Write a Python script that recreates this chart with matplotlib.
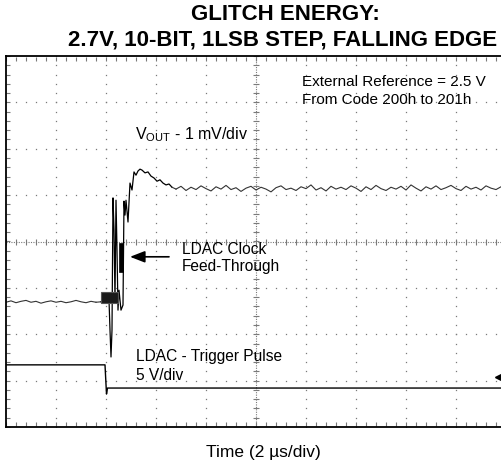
import numpy as np
import matplotlib
matplotlib.use("Agg")
import matplotlib.pyplot as plt
from matplotlib.patches import Rectangle

plt.rcParams['font.family'] = ['Liberation Sans', 'DejaVu Sans']
plt.rcParams['mathtext.fontset'] = 'custom'
plt.rcParams['mathtext.rm'] = 'Liberation Sans'
plt.rcParams['mathtext.it'] = 'Liberation Sans'

# ---- scope data: time in microseconds, vertical in divisions ----
# V_OUT (1 mV/div): pre-step baseline
base_t = np.round(np.arange(0.0, 3.61, 0.2), 2)
base_v = [-1.31, -1.28, -1.32, -1.29, -1.27, -1.31, -1.29, -1.33, -1.30, -1.28,
          -1.31, -1.29, -1.32, -1.30, -1.27, -1.30, -1.32, -1.29, -1.31]

# V_OUT around the LDAC edge (glitch and overshoot)
glitch_t = [3.80, 3.92, 4.04, 4.12, 4.16, 4.20, 4.24, 4.28, 4.32, 4.36, 4.40,
            4.44, 4.48, 4.52, 4.60, 4.68, 4.72, 4.76, 4.80, 4.88, 4.96, 5.04,
            5.12, 5.20, 5.28, 5.36, 5.44, 5.56, 5.68, 5.80, 5.92, 6.04, 6.16,
            6.28, 6.40, 6.52, 6.64]
glitch_v = [-1.30, -1.26, -1.33, -1.26, -1.91, -2.49, -1.91, 0.94, 0.25, -1.26,
            0.89, -0.18, -1.48, -1.05, -1.48, -1.37, 0.87, 0.57, 0.89, 0.42,
            1.26, 1.11, 1.50, 1.43, 1.52, 1.56, 1.54, 1.48, 1.50, 1.41, 1.37,
            1.30, 1.33, 1.26, 1.22, 1.24, 1.17]

# V_OUT settled after the step
settle_t = np.round(np.arange(6.8, 20.01, 0.2), 2)
settle_v = [1.13, 1.19, 1.10, 1.17, 1.12, 1.20, 1.14, 1.09, 1.18, 1.13, 1.21,
            1.12, 1.16, 1.08, 1.15, 1.19, 1.11, 1.17, 1.13, 1.07, 1.16, 1.20,
            1.12, 1.15, 1.10, 1.18, 1.14, 1.22, 1.11, 1.16, 1.09, 1.19, 1.13,
            1.17, 1.12, 1.20, 1.15, 1.08, 1.18, 1.12, 1.21, 1.14, 1.10, 1.17,
            1.13, 1.19, 1.11, 1.22, 1.15, 1.09, 1.18, 1.13, 1.20, 1.12, 1.16,
            1.21, 1.14, 1.10, 1.19, 1.13, 1.17, 1.11, 1.20, 1.15, 1.12, 1.18,
            1.14]

# Overlaid clock feed-through bursts (t range, v range)
block_t = [3.80, 4.48]
block_v = [-1.33, -1.09]
bar_t = [4.52, 4.68]
bar_v = [-0.66, -0.03]

# LDAC trigger pulse (5 V/div)
trig_t = [0.0, 3.96, 4.02, 4.06, 20.0]
trig_v = [-2.66, -2.66, -3.29, -3.16, -3.16]
trig_level = -2.92

# ---- figure ----
W, H = 502, 470
fig = plt.figure(figsize=(W / 100, H / 100), dpi=100)
ax = fig.add_axes([6 / W, (H - 427) / H, 500 / W, (427 - 56) / H])
ax.set_xlim(0, 20)
ax.set_ylim(-4, 4)
ax.set_xticks([])
ax.set_yticks([])
for s in ['left', 'top', 'bottom']:
    ax.spines[s].set_linewidth(1.3)
    ax.spines[s].set_color('black')
ax.spines['right'].set_visible(False)

grid_col = '#7a7a7a'
# graticule: dotted major lines with a dot every 1/5 division
ydots = np.arange(-4, 4.001, 0.2)
xdots = np.arange(0, 20.001, 0.4)
for gx in range(2, 20, 2):
    if gx == 10:
        continue
    ax.plot(np.full_like(ydots, gx), ydots, ls='none', marker='s', ms=0.9,
            color=grid_col, mew=0)
for gy in range(-3, 4):
    if gy == 0:
        continue
    ax.plot(xdots, np.full_like(xdots, gy), ls='none', marker='s', ms=0.9,
            color=grid_col, mew=0)
# centre cross-hair with fine dotting and minor ticks
ax.plot([10, 10], [-4, 4], ls=(0, (1, 1.2)), lw=0.8, color=grid_col)
ax.plot([0, 20], [0, 0], ls=(0, (1, 1.2)), lw=0.8, color=grid_col)
ax.plot(np.full_like(ydots, 10), ydots, ls='none', marker='_', ms=4,
        color=grid_col, mew=0.8)
ax.plot(xdots, np.zeros_like(xdots), ls='none', marker='|', ms=4,
        color=grid_col, mew=0.8)
# edge ticks
ax.plot(xdots, np.full_like(xdots, 3.93), ls='none', marker='|', ms=3,
        color=grid_col, mew=0.8)
ax.plot(xdots, np.full_like(xdots, -3.93), ls='none', marker='|', ms=3,
        color=grid_col, mew=0.8)
ax.plot(np.full_like(ydots, 0.08), ydots, ls='none', marker='_', ms=3,
        color=grid_col, mew=0.8)

# traces
ax.plot(base_t, base_v, color='#333333', lw=0.8)
ax.plot([base_t[-1], glitch_t[0]], [base_v[-1], glitch_v[0]], color='#333333', lw=0.8)
ax.plot(glitch_t, glitch_v, color='black', lw=0.9)
ax.plot([glitch_t[-1], settle_t[0]], [glitch_v[-1], settle_v[0]], color='#333333', lw=0.8)
ax.plot(settle_t, settle_v, color='#333333', lw=0.8)
ax.add_patch(Rectangle((block_t[0], block_v[0]), block_t[1] - block_t[0],
                       block_v[1] - block_v[0], facecolor='#1a1a1a',
                       edgecolor='#555555', lw=0.8, zorder=3))
ax.add_patch(Rectangle((bar_t[0], bar_v[0]), bar_t[1] - bar_t[0],
                       bar_v[1] - bar_v[0], facecolor='black',
                       edgecolor='black', lw=0.5, zorder=3))
ax.plot(trig_t, trig_v, color='black', lw=1.0)
ax.plot([19.75], [trig_level], marker='<', ms=7, color='black', clip_on=False)

# annotations
fs = 11.2
ax.text(11.84, 3.44, 'External Reference = 2.5 V', fontsize=11, va='center', ha='left')
ax.text(11.84, 3.05, 'From Code 200h to 201h', fontsize=11, va='center', ha='left')
ax.text(5.16, 2.30, r'V$_{\mathrm{OUT}}$ - 1 mV/div', fontsize=11.5, va='center', ha='left')
ax.text(7.04, -0.18, 'LDAC Clock', fontsize=fs, va='center', ha='left')
ax.text(7.04, -0.53, 'Feed-Through', fontsize=fs, va='center', ha='left')
ax.annotate('', xy=(4.96, -0.33), xytext=(6.52, -0.33),
            arrowprops=dict(arrowstyle='-|>,head_length=0.9,head_width=0.35',
                            color='black', lw=1.2, shrinkA=0, shrinkB=0))
ax.text(5.2, -2.49, 'LDAC - Trigger Pulse', fontsize=fs, va='center', ha='left')
ax.text(5.2, -2.88, '5 V/div', fontsize=fs, va='center', ha='left')

fig.text(285 / W, 1 - 14 / H, 'GLITCH ENERGY:', fontsize=16, fontweight='bold',
         ha='center', va='center')
fig.text(283 / W, 1 - 40 / H, '2.7V, 10-BIT, 1LSB STEP, FALLING EDGE', fontsize=16,
         fontweight='bold', ha='center', va='center')
fig.text(263 / W, 1 - 452 / H, 'Time (2 \u00b5s/div)', fontsize=12.5, ha='center', va='center')

fig.savefig('out.png', dpi=100)
